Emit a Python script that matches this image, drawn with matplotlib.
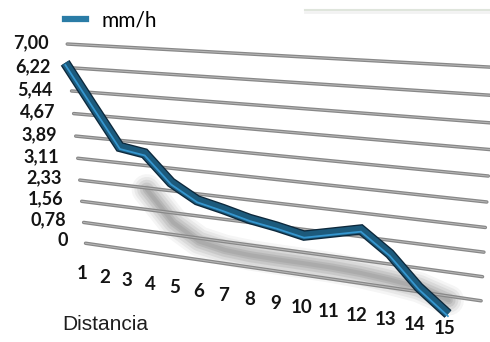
import numpy as np
import matplotlib
matplotlib.use("Agg")
import matplotlib.pyplot as plt
from matplotlib.transforms import Transform
from matplotlib.lines import Line2D

# data
distancia = list(range(1, 16))
mm_h = [6.95, 5.6, 4.27, 4.13, 3.23, 2.72, 2.52, 2.29, 2.14, 1.95, 2.16, 2.37, 1.70, 0.74, 0.0]
sombra_x = list(range(4, 16))
sombra = [2.9, 1.85, 1.3, 1.12, 1.05, 1.03, 1.02, 1.0, 0.95, 0.86, 0.74, 0.45]
yticks = [0, 0.78, 1.56, 2.33, 3.11, 3.89, 4.67, 5.44, 6.22, 7.00]
ytick_labels = ["0", "0,78", "1,56", "2,33", "3,11", "3,89", "4,67", "5,44", "6,22", "7,00"]


def homography(src, dst):
    A, b = [], []
    for (x, y), (u, v) in zip(src, dst):
        A.append([x, y, 1, 0, 0, 0, -u * x, -u * y]); b.append(u)
        A.append([0, 0, 0, x, y, 1, -v * x, -v * y]); b.append(v)
    h = np.linalg.solve(np.array(A, float), np.array(b, float))
    return np.append(h, 1).reshape(3, 3)


class Persp(Transform):
    input_dims = output_dims = 2
    is_separable = False

    def __init__(self, H):
        super().__init__()
        self.H = H

    def transform_non_affine(self, values):
        v = np.asarray(values, float)
        p = np.column_stack([v, np.ones(len(v))]) @ self.H.T
        return p[:, :2] / p[:, 2:3]

    def inverted(self):
        return Persp(np.linalg.inv(self.H))


# back wall (gridlines) and front plane (series) in image pixels
H_back = homography([(1, 7), (15, 7), (1, 0), (15, 0)],
                    [(72, 44.3), (466, 65.8), (90, 243.9), (455, 297)])
shift = np.array([[1, 0, -7], [0, 1, 17], [0, 0, 1]], float)
H_front = shift @ H_back

fig = plt.figure(figsize=(4.9, 3.42), dpi=100)
ax = fig.add_axes([0, 0, 1, 1])
ax.set_xlim(0, 490)
ax.set_ylim(342, 0)
ax.axis("off")

back = Persp(H_back) + ax.transData
front = Persp(H_front) + ax.transData

# faint box at top right
ax.plot([305, 490], [10, 10], color="#dfe5dc", lw=1.5, zorder=1)
ax.plot([305, 490], [12, 12], color="#f2f2f2", lw=2, zorder=1)

# shadow of the line
for lw, a in [(22, 0.06), (18, 0.08), (14, 0.1), (10, 0.12), (6, 0.14), (3, 0.12)]:
    ax.plot(sombra_x, sombra, transform=front, color="#555555", lw=lw,
            alpha=a, solid_capstyle="round", solid_joinstyle="round", zorder=2)

# gridlines
for yv in yticks:
    ax.plot([0.8, 15.85], [yv, yv], transform=back, color="#888888",
            lw=2.5, solid_capstyle="round", zorder=3)
    ax.plot([0.8, 15.85], [yv, yv], transform=back, color="#b8b8b8",
            lw=0.7, zorder=3)

for yv, lab in zip(yticks, ytick_labels):
    ax.text(0.0, yv, lab, transform=back, ha="right", va="center",
            fontsize=13, family="Lato", weight="bold", color="#141414", zorder=5)

for xv in distancia:
    ax.text(xv - 0.1, -0.5, str(xv), transform=front, ha="center", va="center",
            fontsize=13.5, family="Lato", weight="bold", color="#141414", zorder=5)

# the series line (ribbon look)
ax.plot(distancia, mm_h, transform=front, color="#0d283b", lw=7.5,
        solid_joinstyle="miter", solid_capstyle="butt", zorder=6)
ax.plot(distancia, mm_h, transform=front, color="#1c5a7c", lw=5.6,
        solid_joinstyle="miter", solid_capstyle="butt", zorder=7)
ax.plot(distancia, [v - 0.07 for v in mm_h], transform=front, color="#3596cf",
        lw=1.3, solid_joinstyle="miter", zorder=8)

ax.text(62, 324, "Distancia", fontsize=15, family="Liberation Sans",
        color="#1e1e1e", va="center", ha="left")

h = Line2D([], [], color="#2a7ca6", lw=4.5)
ax.legend([h], ["mm/h"], loc="upper left", bbox_to_anchor=(0.095, 1.025),
          frameon=False, handlelength=1.0, handletextpad=0.75,
          prop={"family": "Lato", "size": 15})

fig.savefig("out.png", dpi=100, facecolor="white")
